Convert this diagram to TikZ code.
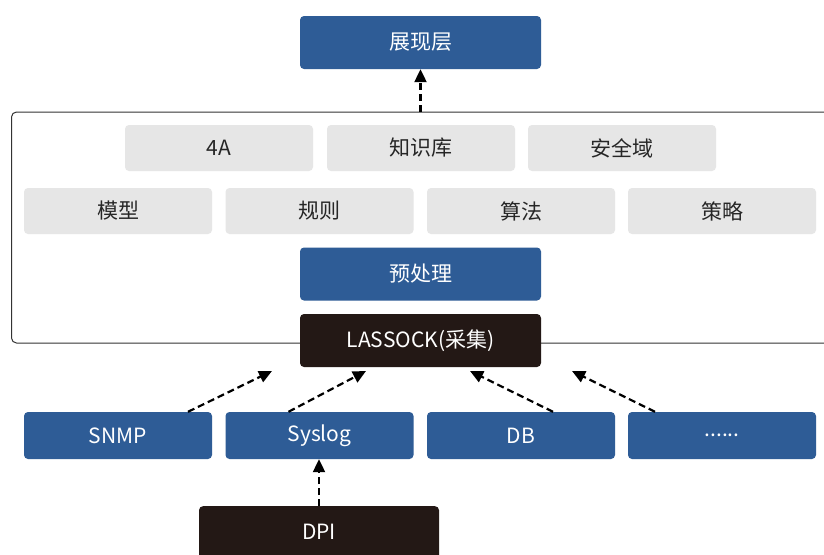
\documentclass[tikz,border=0pt]{standalone}
\usepackage{fontspec}
\setmainfont{Noto Sans CJK SC}
\usetikzlibrary{arrows.meta}
\definecolor{bblue}{HTML}{2E5C96}
\definecolor{lgray}{HTML}{E6E6E6}
\definecolor{dark}{HTML}{231815}
\tikzset{
  box/.style={rounded corners=4pt, minimum height=#1, inner sep=0pt, font=\fontsize{21}{24}\selectfont},
  bluebox/.style={box=53pt, fill=bblue, text=white, minimum width=241pt},
  bluesm/.style={box=47pt, fill=bblue, text=white, minimum width=188pt},
  graybox/.style={box=46pt, fill=lgray, text=black!85, minimum width=188pt},
  darkbox/.style={box=53pt, fill=dark, text=white, minimum width=241pt},
  arr/.style={dashed, dash pattern=on 7pt off 4pt, line width=2.2pt, -{Triangle[length=13pt,width=12pt]}},
  frame/.style={draw=black!80, line width=1pt, rounded corners=5pt}
}
\begin{document}
\begin{tikzpicture}[x=1pt,y=-1pt]
\useasboundingbox (0,0) rectangle (824,554);
\fill[white] (0,0) rectangle (824,554);
\node[frame, minimum width=830pt, minimum height=231pt, anchor=north west, inner sep=0pt] (frm) at (11,111.5) {};
\node[bluebox] (top) at (420.5,42.5) {展现层};
\node[graybox] (a4) at (219,148) {4A};
\node[graybox] (zsk) at (421,148) {知识库};
\node[graybox] (aqy) at (622,148) {安全域};
\node[graybox] (mx) at (118,211) {模型};
\node[graybox] (gz) at (319.5,211) {规则};
\node[graybox] (sf) at (521,211) {算法};
\node[graybox] (cl) at (722,211) {策略};
\node[bluebox] (ycl) at (420.5,274) {预处理};
\node[darkbox] (las) at (420.5,340.5) {LASSOCK(采集)};
\node[bluesm] (snmp) at (118,435.5) {SNMP};
\node[bluesm] (sys) at (319.5,435.5) {Syslog};
\node[bluesm] (db) at (521,435.5) {DB};
\node[bluesm] (etc) at (722,435.5) {......};
\node[darkbox, minimum width=240pt, anchor=north] (dpi) at (319,506) {};
\node[text=white, font=\fontsize{21}{24}\selectfont] (dpit) at (319,532) {DPI};
\draw[arr] (frm.north -| top.south) -- (top.south);
\coordinate (e1) at (272,371);
\coordinate (e2) at (366,371);
\coordinate (e3) at (470,371);
\coordinate (e4) at (572,371);
\draw[arr] ([xshift=70pt]snmp.north) -- (e1);
\draw[arr] ([xshift=-31pt]sys.north) -- (e2);
\draw[arr] ([xshift=32pt]db.north) -- (e3);
\draw[arr] ([xshift=-67pt]etc.north) -- (e4);
\draw[arr] (dpi.north) -- (sys.south -| dpi.north);
\end{tikzpicture}
\end{document}
